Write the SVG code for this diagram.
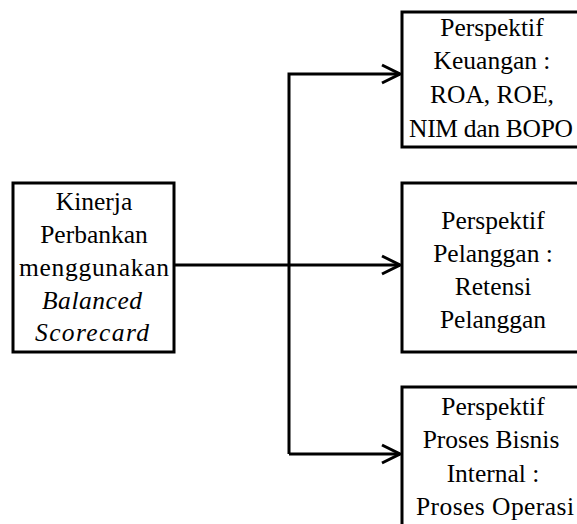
<svg xmlns="http://www.w3.org/2000/svg" width="577" height="524" viewBox="0 0 577 524">
<style>
.box{fill:#fff;stroke:#000;stroke-width:3}
.t{font-family:'Liberation Serif','Times New Roman',serif;font-size:25.5px;fill:#000;text-anchor:middle}
.i{font-style:italic}
.c{fill:none;stroke:#000;stroke-width:3}
</style>
<defs>
<marker id="arr" viewBox="0 0 22 22" refX="19" refY="11" markerWidth="22" markerHeight="22" markerUnits="userSpaceOnUse" orient="auto">
<path d="M1,2 L19,11 L1,20" fill="none" stroke="#000" stroke-width="3"/>
</marker>
</defs>
<rect width="577" height="524" fill="#fff"/>
<g id="connectors">
<path class="c" d="M174,265 H400" marker-end="url(#arr)"/>
<path class="c" d="M289,454 V74 H400" marker-end="url(#arr)"/>
<path class="c" d="M289,454 H400" marker-end="url(#arr)"/>
</g>
<g id="kinerja">
<rect class="box" x="13" y="183" width="161" height="169"/>
<text class="t" x="94" y="210">Kinerja</text>
<text class="t" x="94" y="243">Perbankan</text>
<text class="t" x="94" y="276" textLength="150" lengthAdjust="spacing">menggunakan</text>
<text class="t i" x="92" y="309" textLength="100" lengthAdjust="spacing">Balanced</text>
<text class="t i" x="92" y="341" textLength="114" lengthAdjust="spacing">Scorecard</text>
</g>
<g id="keuangan">
<rect class="box" x="402" y="12" width="190" height="135"/>
<text class="t" x="492" y="36">Perspektif</text>
<text class="t" x="492" y="69">Keuangan :</text>
<text class="t" x="492" y="103">ROA, ROE,</text>
<text class="t" x="491" y="137" textLength="164" lengthAdjust="spacing">NIM dan BOPO</text>
</g>
<g id="pelanggan">
<rect class="box" x="402" y="183" width="190" height="169"/>
<text class="t" x="493" y="229">Perspektif</text>
<text class="t" x="493" y="262">Pelanggan :</text>
<text class="t" x="493" y="295">Retensi</text>
<text class="t" x="493" y="328">Pelanggan</text>
</g>
<g id="proses">
<rect class="box" x="402" y="387" width="190" height="160"/>
<text class="t" x="493" y="415">Perspektif</text>
<text class="t" x="491" y="448">Proses Bisnis</text>
<text class="t" x="493" y="482">Internal :</text>
<text class="t" x="495" y="515" textLength="158" lengthAdjust="spacing">Proses Operasi</text>
</g>
</svg>
